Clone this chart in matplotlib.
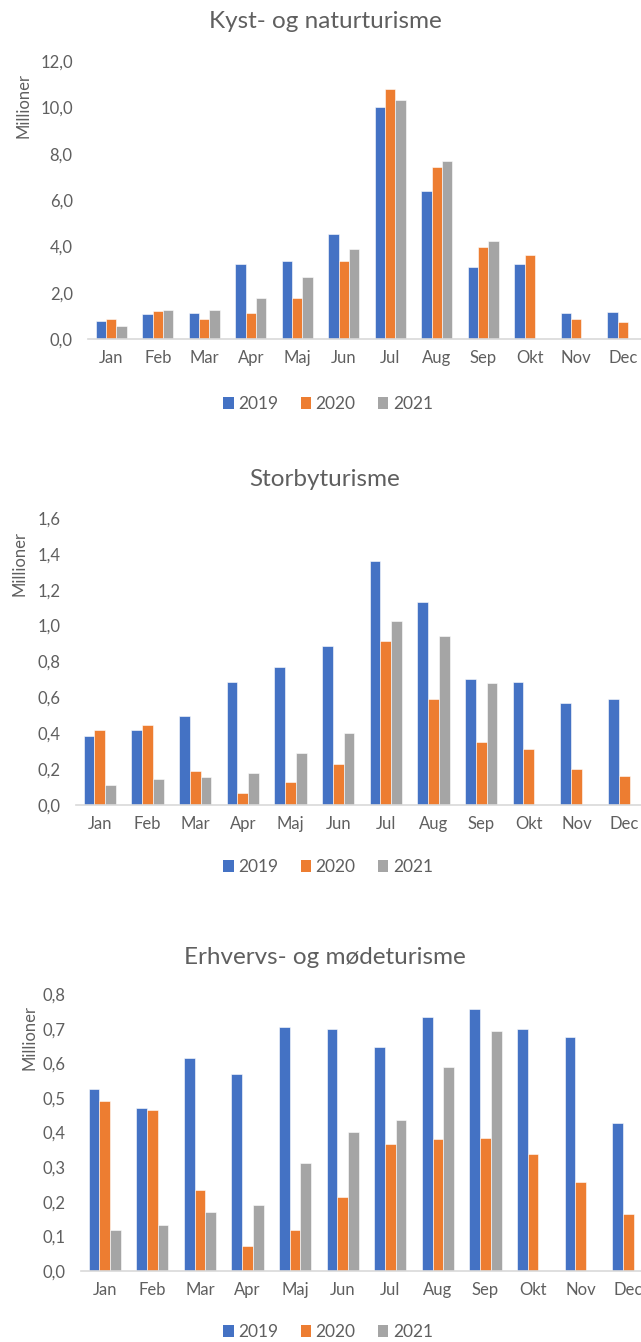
import matplotlib
matplotlib.use("Agg")
import matplotlib.pyplot as plt
from matplotlib.patches import Patch
import numpy as np

plt.rcParams['font.family'] = ['Lato', 'DejaVu Sans']

months = ["Jan", "Feb", "Mar", "Apr", "Maj", "Jun", "Jul", "Aug", "Sep", "Okt", "Nov", "Dec"]
years = ["2019", "2020", "2021"]

kyst_2019 = [0.79, 1.06, 1.12, 3.24, 3.37, 4.54, 10.0, 6.40, 3.11, 3.24, 1.12, 1.18]
kyst_2020 = [0.86, 1.19, 0.86, 1.12, 1.77, 3.37, 10.78, 7.43, 3.96, 3.62, 0.86, 0.73]
kyst_2021 = [0.55, 1.25, 1.25, 1.77, 2.67, 3.89, 10.33, 7.69, 4.22, np.nan, np.nan, np.nan]

storby_2019 = [0.385, 0.42, 0.497, 0.687, 0.772, 0.884, 1.362, 1.131, 0.703, 0.687, 0.567, 0.592]
storby_2020 = [0.42, 0.445, 0.19, 0.069, 0.128, 0.23, 0.915, 0.592, 0.352, 0.311, 0.199, 0.164]
storby_2021 = [0.11, 0.147, 0.156, 0.18, 0.29, 0.404, 1.027, 0.943, 0.679, np.nan, np.nan, np.nan]

erhverv_2019 = [0.526, 0.470, 0.616, 0.568, 0.705, 0.698, 0.646, 0.735, 0.757, 0.698, 0.676, 0.427]
erhverv_2020 = [0.492, 0.466, 0.235, 0.072, 0.119, 0.214, 0.367, 0.380, 0.384, 0.337, 0.256, 0.166]
erhverv_2021 = [0.119, 0.132, 0.170, 0.192, 0.312, 0.402, 0.436, 0.590, 0.693, np.nan, np.nan, np.nan]

titles = ["Kyst- og naturturisme", "Storbyturisme", "Erhvervs- og mødeturisme"]
colors = ["#4472C4", "#ED7D31", "#A5A5A5"]
text_color = "#5f5f5f"

W, H = 641, 1342
fig = plt.figure(figsize=(W / 100, H / 100), dpi=100)
fig.patch.set_facecolor("white")


def rect(left, top, right, bottom):
    return [left / W, 1 - bottom / H, (right - left) / W, (bottom - top) / H]


panels = [
    dict(data=[kyst_2019, kyst_2020, kyst_2021], ymax=12, step=2.0,
         box=(88, 61, 646, 339), title_y=22, ylab=(23, 105), leg_y=404),
    dict(data=[storby_2019, storby_2020, storby_2021], ymax=1.6, step=0.2,
         box=(76, 518, 648, 805), title_y=480, ylab=(20, 563), leg_y=867),
    dict(data=[erhverv_2019, erhverv_2020, erhverv_2021], ymax=0.8, step=0.1,
         box=(81, 994, 652, 1271), title_y=957, ylab=(29, 1038), leg_y=1332),
]

x = np.arange(len(months))
bw = 0.225
for i, p in enumerate(panels):
    ax = fig.add_axes(rect(*p["box"]))
    for k, (vals, c) in enumerate(zip(p["data"], colors)):
        ax.bar(x + (k - 1) * bw, vals, width=bw, color=c, edgecolor="white", linewidth=0.4, zorder=2)
    ax.set_xlim(-0.5, 11.5)
    ax.set_ylim(0, p["ymax"])
    ticks = np.arange(0, p["ymax"] + 1e-9, p["step"])
    ax.set_yticks(ticks)
    ax.set_yticklabels([f"{t:.1f}".replace(".", ",") for t in ticks])
    ax.set_xticks(x)
    ax.set_xticklabels(months)
    for s in ["top", "right", "left"]:
        ax.spines[s].set_visible(False)
    ax.spines["bottom"].set_color("#D9D9D9")
    ax.spines["bottom"].set_linewidth(1.2)
    ax.tick_params(axis="both", length=0, labelsize=12, colors=text_color)
    ax.tick_params(axis="y", pad=11)
    ax.tick_params(axis="x", pad=8)
    ax.set_facecolor("none")

    fig.text(325 / W, 1 - p["title_y"] / H, titles[i], ha="center", va="center",
             fontsize=17.5, color=text_color)
    fig.text(p["ylab"][0] / W, 1 - p["ylab"][1] / H, "Millioner", ha="center", va="center",
             rotation=90, fontsize=12, color=text_color)
    handles = [Patch(facecolor=c, edgecolor="none") for c in colors]
    fig.legend(handles, years, loc="center", bbox_to_anchor=(328 / W, 1 - p["leg_y"] / H),
               ncol=3, frameon=False, fontsize=12.5, labelcolor=text_color,
               handlelength=0.6, handleheight=0.7, handletextpad=0.25, columnspacing=1.3)

fig.savefig("out.png", dpi=100)
